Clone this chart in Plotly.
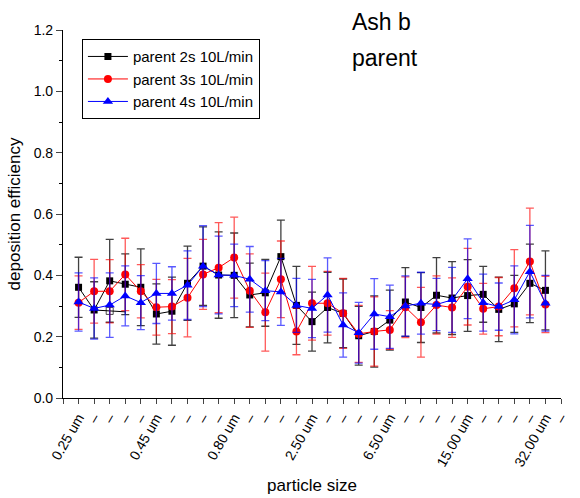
import plotly.graph_objects as go

# category positions 0..30, tick labels every 5th
tick_positions = list(range(-1, 32))
labeled = {0: "0.25 um", 5: "0.45 um", 10: "0.80 um", 15: "2.50 um",
           20: "6.50 um", 25: "15.00 um", 30: "32.00 um"}
tick_text = ["" if i == -1 else labeled.get(i, "–") for i in tick_positions]

x_idx = list(range(31))

black_y = [0.361, 0.287, 0.382, 0.371, 0.361, 0.274, 0.283, 0.374, 0.430, 0.401,
           0.400, 0.336, 0.343, 0.461, 0.302, 0.249, 0.295, 0.276, 0.203, 0.217,
           0.254, 0.313, 0.295, 0.335, 0.326, 0.334, 0.338, 0.289, 0.307, 0.374, 0.351]
black_err = [0.098, 0.092, 0.135, 0.099, 0.125, 0.098, 0.111, 0.121, 0.128, 0.141,
             0.138, 0.104, 0.109, 0.119, 0.127, 0.096, 0.115, 0.112, 0.096, 0.116,
             0.098, 0.112, 0.114, 0.123, 0.119, 0.117, 0.091, 0.105, 0.093, 0.128, 0.129]

red_y = [0.311, 0.348, 0.348, 0.403, 0.348, 0.296, 0.298, 0.327, 0.403, 0.425,
         0.458, 0.350, 0.280, 0.387, 0.217, 0.309, 0.309, 0.276, 0.209, 0.217,
         0.222, 0.296, 0.247, 0.303, 0.295, 0.363, 0.291, 0.298, 0.358, 0.445, 0.305]
red_err = [0.087, 0.104, 0.103, 0.118, 0.087, 0.091, 0.088, 0.128, 0.114, 0.147,
           0.132, 0.120, 0.127, 0.125, 0.076, 0.120, 0.104, 0.114, 0.093, 0.113,
           0.063, 0.099, 0.114, 0.095, 0.097, 0.125, 0.083, 0.095, 0.126, 0.174, 0.092]

blue_y = [0.313, 0.292, 0.303, 0.333, 0.311, 0.341, 0.341, 0.368, 0.430, 0.401,
          0.400, 0.387, 0.350, 0.346, 0.302, 0.292, 0.336, 0.238, 0.213, 0.274,
          0.265, 0.300, 0.309, 0.305, 0.320, 0.389, 0.311, 0.298, 0.320, 0.412, 0.309]
blue_err = [0.095, 0.100, 0.105, 0.098, 0.088, 0.098, 0.087, 0.112, 0.132, 0.127,
            0.102, 0.107, 0.098, 0.109, 0.088, 0.095, 0.121, 0.105, 0.099, 0.115,
            0.103, 0.098, 0.101, 0.085, 0.106, 0.130, 0.093, 0.077, 0.111, 0.151, 0.091]

# extra hollow point of the 2s series seen in the picture
hollow_x = [1, 2, 3]
hollow_y = [0.287, 0.284, 0.281]

series = [
    ("parent 2s 10L/min", black_y, black_err, "black", "rgba(0,0,0,0.75)", "square", 7),
    ("parent 3s 10L/min", red_y, red_err, "red", "rgba(255,0,0,0.65)", "circle", 8),
    ("parent 4s 10L/min", blue_y, blue_err, "blue", "rgba(0,0,255,0.65)", "triangle-up", 9),
]

fig = go.Figure()
fig.add_trace(go.Scatter(
    x=hollow_x, y=hollow_y, mode="lines+markers", showlegend=False,
    line=dict(color="black", width=1),
    marker=dict(symbol=["square", "square-open", "square"], size=[0, 7, 0],
                color="black", line=dict(color="black", width=1)),
    hoverinfo="skip"))
for name, ys, errs, col, ecol, sym, sz in series:
    fig.add_trace(go.Scatter(
        x=x_idx, y=ys, name=name, mode="lines+markers",
        line=dict(color=col, width=1),
        marker=dict(symbol=sym, size=sz, color=col),
        error_y=dict(type="data", array=errs, visible=True, color=ecol,
                     thickness=1.3, width=4),
    ))

fig.update_layout(
    width=580, height=498,
    margin=dict(l=63, r=19, t=30, b=100),
    paper_bgcolor="white", plot_bgcolor="white",
    font=dict(family="Liberation Sans, Arial", size=14, color="black"),
    showlegend=True,
    legend=dict(x=0.038, y=0.975, xanchor="left", yanchor="top",
                bordercolor="black", borderwidth=1, bgcolor="white",
                font=dict(size=15), itemwidth=40, tracegroupgap=0),
    xaxis=dict(range=[-1, 31], tickmode="array", tickvals=tick_positions,
               ticktext=tick_text, tickangle=-60, ticks="outside", ticklen=5,
               showline=True, linecolor="black", linewidth=1.2, showgrid=False,
               zeroline=False, tickfont=dict(size=14), automargin=False,
               title=dict(text="particle size", font=dict(size=17), standoff=10)),
    yaxis=dict(range=[0, 1.2], dtick=0.2, tickformat=".1f", ticks="outside",
               ticklen=6, showline=True, linecolor="black", linewidth=1.2,
               showgrid=False, zeroline=False, tickfont=dict(size=14), automargin=False,
               minor=dict(ticks="outside", dtick=0.1, ticklen=3, tickcolor="black"),
               title=dict(text="deposition efficiency", font=dict(size=17), standoff=8)),
    annotations=[
        dict(text="Ash b", xref="paper", yref="paper", x=0.576, y=1.022,
             xanchor="left", yanchor="middle", showarrow=False,
             font=dict(size=23, color="black")),
        dict(text="parent", xref="paper", yref="paper", x=0.576, y=0.924,
             xanchor="left", yanchor="middle", showarrow=False,
             font=dict(size=23, color="black")),
    ],
)

fig.write_html("out.html")
